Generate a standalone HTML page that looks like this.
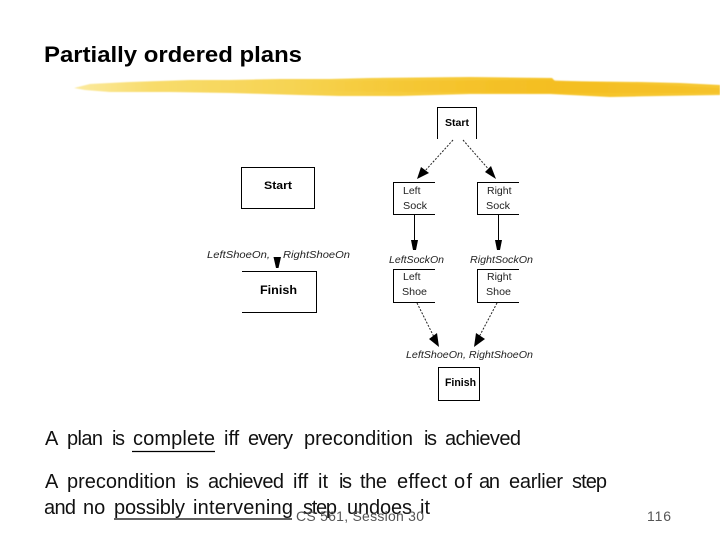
<!DOCTYPE html>
<html>
<head>
<meta charset="utf-8">
<style>
html,body{margin:0;padding:0;background:#fff;width:720px;height:540px;overflow:hidden}
svg{display:block}
text{font-family:"Liberation Sans",sans-serif;fill:#000}
.b{font-weight:bold}
.i{font-style:italic;font-size:10px;fill:#222}
.n{font-size:10.5px;fill:#222}
.t{font-size:20px;fill:#111}
</style>
</head>
<body>
<svg width="720" height="540" viewBox="0 0 720 540" xmlns="http://www.w3.org/2000/svg">
<defs>
<linearGradient id="g" x1="0" x2="1" y1="0" y2="0">
<stop offset="0" stop-color="#fbeaa0"/>
<stop offset="0.12" stop-color="#f8dc6c"/>
<stop offset="0.45" stop-color="#f6cf45"/>
<stop offset="0.75" stop-color="#f5c328"/>
<stop offset="1" stop-color="#f6c834"/>
</linearGradient>
<linearGradient id="g2" x1="0" x2="1" y1="0" y2="0">
<stop offset="0" stop-color="#f3bb1e" stop-opacity="0"/>
<stop offset="0.5" stop-color="#f3bb1e" stop-opacity=".55"/>
<stop offset="1" stop-color="#f3bb1e" stop-opacity=".45"/>
</linearGradient>
<filter id="s" x="-5%" y="-5%" width="110%" height="110%"><feGaussianBlur stdDeviation="0.35"/></filter>
<filter id="s2" x="-2%" y="-30%" width="104%" height="160%"><feGaussianBlur stdDeviation="0.5"/></filter>
</defs>

<text x="44" y="62" class="b" font-size="22" textLength="258" lengthAdjust="spacingAndGlyphs">Partially ordered plans</text>

<g filter="url(#s2)">
<polygon fill="url(#g)" points="74,88 90,84 130,82 190,80 230,80 280,79 330,79 370,78 470,77 552,78 555,81 640,82 680,83 720,85 720,95 660,96 610,97 550,94 470,94 400,96 340,96 300,95 230,93 170,92 110,92 85,90"/>
<polygon fill="url(#g2)" points="300,81 550,80 720,88 720,93 560,93 400,92 300,91"/>
</g>

<g filter="url(#s)">
<g fill="none" stroke="#000" stroke-width="1">
<rect x="241.500" y="167.500" width="73" height="41"/>
<path d="M242 271.500H316.500V312.500H242"/>
<path d="M437.500 139V107.500H476.500V139"/>
<path d="M435 182.500H393.500V214.500H435"/>
<path d="M519 182.500H477.500V214.500H519"/>
<path d="M435 269.500H393.500V302.500H435"/>
<path d="M519 269.500H477.500V302.500H519"/>
<rect x="438.500" y="367.500" width="41" height="33"/>
<path d="M414.500 215V242M498.500 215V242"/>
<g stroke-dasharray="2 1.500" stroke="#222">
<path d="M453 140L424 172M463 140L491 172M417 303L434 337M497 303L479 337"/>
</g>
</g>

<g fill="#000">
<polygon points="273.500,257 281,257 278.500,268 276,268"/>
<polygon points="411,240 418,240 416,250 413,250"/>
<polygon points="495,240 502,240 500,250 497,250"/>
<polygon points="417,179 421,167 429,173"/>
<polygon points="496,179 485,172 491,166"/>
<polygon points="439,347 429,339 437,333"/>
<polygon points="474,347 476,333 485,339"/>
</g>

<text x="264" y="189" class="b" font-size="11" textLength="28" lengthAdjust="spacingAndGlyphs">Start</text>
<text x="260" y="294" class="b" font-size="12" textLength="37" lengthAdjust="spacingAndGlyphs">Finish</text>
<text x="207" y="258" class="i" textLength="63" lengthAdjust="spacingAndGlyphs">LeftShoeOn,</text>
<text x="283" y="258" class="i" textLength="67" lengthAdjust="spacingAndGlyphs">RightShoeOn</text>

<text x="445" y="126" class="b" font-size="10.500" textLength="24" lengthAdjust="spacingAndGlyphs">Start</text>
<text x="403" y="194" class="n">Left</text>
<text x="403" y="209" class="n" textLength="24" lengthAdjust="spacingAndGlyphs">Sock</text>
<text x="487" y="194" class="n">Right</text>
<text x="486" y="209" class="n" textLength="24" lengthAdjust="spacingAndGlyphs">Sock</text>
<text x="389" y="263" class="i" textLength="55" lengthAdjust="spacingAndGlyphs">LeftSockOn</text>
<text x="470" y="263" class="i" textLength="63" lengthAdjust="spacingAndGlyphs">RightSockOn</text>
<text x="403" y="280" class="n">Left</text>
<text x="402" y="295" class="n" textLength="25" lengthAdjust="spacingAndGlyphs">Shoe</text>
<text x="487" y="280" class="n">Right</text>
<text x="486" y="295" class="n" textLength="25" lengthAdjust="spacingAndGlyphs">Shoe</text>
<text x="406" y="358" class="i" textLength="127" lengthAdjust="spacingAndGlyphs">LeftShoeOn, RightShoeOn</text>
<text x="445" y="386" class="b" font-size="11" textLength="31" lengthAdjust="spacingAndGlyphs">Finish</text>
</g>

<g>
<text class="t" y="445" x="45">A</text>
<text class="t" y="445" x="67" textLength="36">plan</text>
<text class="t" y="445" x="112" textLength="13">is</text>
<text class="t" y="445" x="133" textLength="82">complete</text>
<text class="t" y="445" x="224">iff</text>
<text class="t" y="445" x="248" textLength="45">every</text>
<text class="t" y="445" x="304" textLength="109">precondition</text>
<text class="t" y="445" x="424" textLength="13">is</text>
<text class="t" y="445" x="445" textLength="76">achieved</text>

<text class="t" y="488" x="45">A</text>
<text class="t" y="488" x="67" textLength="109">precondition</text>
<text class="t" y="488" x="186" textLength="13">is</text>
<text class="t" y="488" x="208" textLength="76">achieved</text>
<text class="t" y="488" x="293">iff</text>
<text class="t" y="488" x="318">it</text>
<text class="t" y="488" x="339" textLength="13">is</text>
<text class="t" y="488" x="360" textLength="27">the</text>
<text class="t" y="488" x="397" textLength="50">effect</text>
<text class="t" y="488" x="454" textLength="18">of</text>
<text class="t" y="488" x="479" textLength="21">an</text>
<text class="t" y="488" x="509" textLength="54">earlier</text>
<text class="t" y="488" x="572" textLength="35">step</text>

<text class="t" y="514" x="44" textLength="32">and</text>
<text class="t" y="514" x="83">no</text>
<text class="t" y="514" x="114" textLength="71">possibly</text>
<text class="t" y="514" x="193" textLength="100">intervening</text>
<text class="t" y="514" x="303" textLength="34">step</text>
<text class="t" y="514" x="347" textLength="65">undoes</text>
<text class="t" y="514" x="420">it</text>
</g>

<g stroke="#000" stroke-width="1.300">
<line x1="132" x2="215" y1="451.500" y2="451.500"/>
<line x1="114" x2="292" y1="519" y2="519"/>
</g>

<text x="296" y="521" font-size="14" style="fill:#555" textLength="128" lengthAdjust="spacing">CS 561, Session 30</text>
<text x="647" y="521" font-size="14" style="fill:#555" textLength="24" lengthAdjust="spacing">116</text>
</svg>
</body>
</html>
